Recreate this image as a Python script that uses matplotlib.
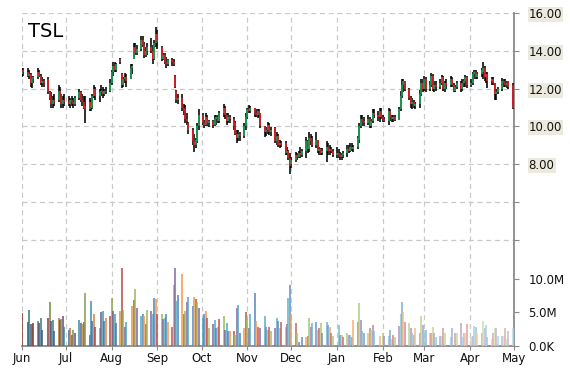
import matplotlib
matplotlib.use("Agg")
import matplotlib.pyplot as plt
import matplotlib.dates as mdates
import numpy as np
import pandas as pd
from matplotlib.colors import to_rgb

# ---------------- data ----------------
title = "TSL"
start_date = "2006-06-01"
end_date = "2007-04-30"

opens = [
    # Jun
    12.8,13.0,12.9,12.7,12.8,12.3,12.5,12.6,12.9,12.7,12.3,12.4,12.5,11.8,11.5,11.2,11.4,11.4,11.9,11.7,11.2,11.4,
    # Jul
    11.3,11.2,11.4,11.3,11.2,11.5,11.8,11.4,11.3,11.1,10.9,11.3,11.0,11.6,12.0,11.6,11.8,11.9,11.7,11.9,11.9,
    # Aug
    12.3,12.9,13.2,13.0,13.6,12.8,12.2,12.5,12.6,12.5,13.1,13.6,14.2,13.9,14.1,14.6,14.3,13.8,14.0,14.2,14.0,13.6,14.4,
    # Sep
    14.9,14.2,13.6,13.8,13.4,13.3,13.5,13.4,12.7,11.9,11.4,11.5,11.0,10.9,10.4,10.2,9.8,9.2,9.0,9.2,10.0,
    # Oct
    10.6,10.2,10.1,10.5,10.2,10.3,10.1,10.4,10.5,10.3,10.7,11.0,10.6,10.3,10.5,10.4,10.2,9.6,9.4,9.6,9.5,10.0,
    # Nov
    10.5,10.9,10.8,11.0,10.7,10.6,10.8,10.7,10.0,9.7,9.8,10.1,9.7,9.9,9.2,9.5,9.0,9.1,9.1,8.6,8.7,8.3,
    # Dec
    8.0,8.2,8.5,8.4,8.6,8.5,8.7,9.2,8.8,9.4,9.2,9.0,9.3,8.7,8.8,8.6,8.7,8.9,8.7,8.8,8.7,
    # Jan
    8.5,8.6,8.5,8.4,8.5,8.6,8.8,8.7,8.9,8.8,8.9,9.3,10.0,10.4,10.3,10.2,10.4,10.0,10.3,10.7,10.6,10.5,10.8,
    # Feb
    10.5,10.4,10.3,10.8,10.5,10.4,10.5,10.35,10.9,11.6,12.2,12.4,12.0,11.5,11.2,11.3,11.1,11.2,11.7,12.3,
    # Mar
    12.0,12.5,12.0,12.2,12.7,12.0,12.2,12.1,12.3,12.6,12.0,12.3,12.2,12.5,12.2,11.9,12.1,12.3,12.0,12.3,12.4,12.6,
    # Apr
    12.2,12.3,12.8,12.9,12.6,12.8,12.9,13.1,12.6,12.8,12.4,12.5,12.3,11.7,11.8,12.0,12.4,12.3,12.2,12.4,12.2,
]
highs = [
    13.1,13.1,13.1,13.0,12.85,12.6,12.7,13.1,13.0,12.8,12.6,12.5,12.6,11.9,11.8,11.6,11.7,12.2,12.1,11.7,11.6,11.7,
    11.6,11.5,11.6,11.5,11.6,12.0,11.9,11.7,11.6,11.6,11.5,11.4,11.7,12.2,12.1,12.0,12.2,12.1,12.0,12.1,12.5,
    13.0,13.4,13.4,13.35,13.65,12.85,12.6,12.85,12.8,13.3,13.3,14.45,14.4,14.3,14.8,14.8,14.5,14.2,14.4,14.7,14.3,14.6,15.25,
    15.1,14.25,13.9,13.9,13.7,13.6,13.65,13.6,12.75,11.95,11.7,11.7,11.2,11.15,10.7,10.25,9.9,9.6,9.4,10.2,10.9,
    10.7,10.35,10.7,10.6,10.35,10.35,10.6,10.6,10.6,10.8,11.2,11.1,10.7,10.7,10.6,10.5,10.3,9.8,9.8,9.7,10.2,10.7,
    11.0,11.15,11.1,11.0,10.9,10.9,10.9,10.7,10.0,9.95,10.25,10.2,9.95,9.95,9.7,9.6,9.3,9.2,9.2,8.9,8.75,8.6,
    8.4,8.65,8.6,8.7,8.9,8.8,9.45,9.3,9.7,9.6,9.5,9.7,9.3,8.9,8.85,8.85,9.2,9.1,9.0,8.9,8.8,
    8.9,8.8,8.65,8.6,8.7,9.0,9.0,9.1,9.1,9.0,9.5,10.2,10.6,10.6,10.5,10.6,10.5,10.4,10.9,10.9,10.8,11.0,11.0,
    10.6,10.5,11.0,10.9,10.6,10.6,10.6,11.05,11.9,12.5,12.5,12.4,12.05,11.6,11.5,11.4,11.3,11.95,12.5,12.5,
    12.65,12.6,12.4,12.85,12.8,12.4,12.4,12.5,12.75,12.7,12.4,12.5,12.65,12.6,12.3,12.2,12.4,12.4,12.5,12.5,12.75,12.7,
    12.5,12.9,13.0,13.0,12.9,13.1,13.4,13.2,12.9,12.9,12.6,12.6,12.3,12.0,12.1,12.55,12.5,12.5,12.4,12.4,12.3,
]
lows = [
    12.6,12.7,12.6,12.5,12.1,12.05,12.3,12.5,12.6,12.2,12.1,12.1,11.7,11.4,11.0,11.0,11.1,11.3,11.5,11.0,11.0,11.1,
    11.1,11.0,11.1,11.0,11.1,11.4,11.3,11.1,10.9,10.2,10.8,10.8,10.9,11.5,11.4,11.3,11.6,11.5,11.6,11.7,11.8,
    12.2,12.7,12.9,12.9,13.3,12.05,12.1,12.3,12.1,12.5,12.8,13.55,13.8,13.8,14.0,14.2,13.65,13.7,13.8,13.9,13.3,13.5,14.2,
    14.1,13.45,13.5,13.3,13.1,13.2,13.2,13.2,12.05,11.25,11.2,10.8,10.6,10.2,10.1,9.6,9.0,8.65,8.85,9.1,9.8,
    10.1,9.9,10.0,10.0,9.95,9.9,10.0,10.1,10.2,10.2,10.5,10.4,10.1,10.2,10.2,9.8,9.55,9.1,9.2,9.2,9.4,9.8,
    10.4,10.7,10.7,10.5,10.5,10.45,10.5,9.9,9.45,9.5,9.6,9.55,9.5,9.1,9.0,8.9,8.85,8.9,8.5,8.5,8.2,7.5,
    7.8,8.1,8.2,8.3,8.35,8.4,8.35,8.6,8.65,9.0,8.9,8.85,8.6,8.5,8.5,8.5,8.1,8.5,8.5,8.6,8.4,
    8.3,8.3,8.2,8.2,8.3,8.4,8.6,8.65,8.7,8.65,8.8,9.1,9.9,10.0,10.0,10.1,9.9,9.9,10.2,10.45,10.3,10.25,10.4,
    10.25,10.25,10.1,10.3,10.25,10.25,10.3,10.35,10.8,11.5,11.85,11.9,11.4,11.0,10.9,11.0,10.9,11.0,11.6,11.85,
    11.9,11.85,11.9,12.1,11.9,11.85,11.9,12.0,12.2,11.9,11.85,12.0,12.1,12.1,11.8,11.8,12.0,11.85,11.9,12.1,12.1,12.05,
    12.1,12.2,12.5,12.5,12.5,12.6,12.5,12.4,12.3,12.05,12.2,12.2,11.4,11.4,11.7,11.9,12.1,12.1,12.05,12.0,10.9,
]
closes = [
    13.0,12.9,12.7,12.8,12.3,12.5,12.6,12.9,12.7,12.3,12.4,12.3,11.8,11.5,11.2,11.4,11.3,11.9,11.7,11.2,11.4,11.3,
    11.2,11.4,11.3,11.2,11.5,11.8,11.4,11.3,11.0,10.9,11.3,11.0,11.6,12.0,11.6,11.8,11.9,11.7,11.9,11.8,12.3,
    12.9,13.2,13.0,13.3,13.4,12.2,12.5,12.6,12.4,13.1,13.2,14.2,13.9,14.1,14.6,14.3,13.8,14.0,14.2,14.0,13.6,14.4,14.9,
    14.5,13.6,13.8,13.4,13.3,13.5,13.4,13.3,12.1,11.4,11.5,11.0,10.8,10.4,10.3,9.8,9.2,9.0,9.3,10.0,10.6,
    10.2,10.1,10.5,10.2,10.3,10.1,10.4,10.5,10.3,10.7,11.0,10.6,10.3,10.5,10.4,10.0,9.6,9.4,9.6,9.5,10.0,10.5,
    10.9,10.8,11.0,10.7,10.6,10.8,10.7,10.0,9.7,9.8,10.1,9.7,9.8,9.2,9.5,9.0,9.1,9.0,8.6,8.7,8.3,7.9,
    8.2,8.5,8.4,8.6,8.5,8.7,9.2,8.8,9.4,9.2,9.0,9.3,8.7,8.8,8.6,8.7,8.9,8.7,8.8,8.7,8.5,
    8.6,8.5,8.4,8.5,8.6,8.8,8.7,8.9,8.8,8.9,9.4,10.0,10.4,10.3,10.2,10.4,10.0,10.3,10.7,10.6,10.5,10.8,10.5,
    10.4,10.3,10.8,10.5,10.4,10.5,10.35,10.9,11.6,12.2,12.4,12.0,11.5,11.2,11.3,11.1,11.2,11.7,12.3,12.0,
    12.5,12.0,12.2,12.7,12.0,12.2,12.1,12.3,12.6,12.0,12.3,12.2,12.5,12.2,11.9,12.1,12.3,12.0,12.3,12.4,12.6,12.2,
    12.3,12.8,12.9,12.6,12.8,13.0,13.1,12.6,12.8,12.4,12.5,12.3,11.7,11.8,12.0,12.4,12.3,12.2,12.3,12.1,11.0,
]
volumes_m = [
    4.9,0,3.5,5.4,3.2,3.2,3.4,3.7,3.4,4.1,2.4,0,4.1,6.5,3.7,3.9,2.2,4.1,3.9,4.0,4.4,2.8,
    2.4,2.6,1.7,2.4,1.9,3.9,3.4,3.2,3.5,7.9,1.7,6.6,3.7,4.8,2.8,2.7,5.0,5.2,3.7,4.2,4.4,
    7.1,5.2,4.8,3.4,5.2,11.6,5.4,2.8,3.5,0,5.9,6.8,8.4,5.7,4.4,4.7,4.4,3.2,5.4,5.2,4.8,7.1,6.9,
    4.8,4.7,4.0,4.1,4.7,3.5,2.8,9.1,11.6,6.6,7.6,10.7,4.8,5.2,6.5,7.2,5.9,7.3,6.9,6.5,5.7,
    4.1,4.7,5.2,4.2,2.7,3.2,3.9,2.6,2.8,4.0,4.5,2.4,3.4,2.2,2.2,2.2,1.7,5.7,6.1,1.9,2.7,5.0,
    4.2,2.7,4.7,7.9,3.7,2.8,0,2.7,4.5,2.8,2.4,2.8,2.2,2.7,4.2,3.7,2.6,3.5,2.8,3.2,7.1,9.1,
    4.7,3.4,2.0,0.6,0,1.3,1.4,1.5,4.2,2.8,3.4,3.5,2.4,2.6,3.4,1.9,3.5,3.1,2.8,1.9,1.5,
    0,3.1,1.7,1.7,1.4,1.9,1.7,1.7,1.4,3.9,3.5,6.3,3.9,2.2,1.9,1.9,2.7,2.4,3.1,2.2,0,1.5,0,
    1.9,1.5,1.5,2.4,1.1,1.7,1.3,3.0,4.7,6.5,5.0,3.5,3.4,2.7,2.0,1.7,2.6,1.9,4.5,3.1,
    2.4,2.4,2.0,2.0,2.8,1.9,1.3,1.5,1.5,2.6,1.9,0,1.3,2.6,0,2.0,1.9,3.4,1.4,2.0,2.0,3.2,
    1.3,1.5,3.0,2.8,1.9,1.9,3.7,2.7,3.1,1.4,1.1,1.9,2.6,2.7,1.5,1.5,1.5,2.7,1.1,2.2,2.6,
]
price_ticks = [4, 6, 8, 10, 12, 14, 16]
price_labels = ["", "", "8.00", "10.00", "12.00", "14.00", "16.00"]
volume_ticks = [0, 5, 10]
volume_labels = ["0.0K", "5.0M", "10.0M"]

# ---------------- styling ----------------
UP = "#1aa85a"
DOWN = "#ee1c24"
GRID = "#c9c9c9"
AXIS = "#8a8a8a"
vol_palette = ["#C0504D", "#9BBB59", "#8064A2", "#4BACC6", "#4F81BD", "#F79646"]

dates = pd.bdate_range(start_date, end_date)
n = min(len(dates), len(opens), len(highs), len(lows), len(closes), len(volumes_m))
x = mdates.date2num(dates[:n])
o = np.array(opens[:n]); h = np.array(highs[:n]); l = np.array(lows[:n]); c = np.array(closes[:n])
v = np.array(volumes_m[:n])

W, H = 570, 370
fig = plt.figure(figsize=(W / 100, H / 100), dpi=100)
left_px, right_px, top_px, bot_px = 21.7, 514, 13.3, 346
ax = fig.add_axes([left_px / W, (H - bot_px) / H, (right_px - left_px) / W, (bot_px - top_px) / H])
ax.set_xlim(mdates.date2num(pd.Timestamp("2006-06-01")), mdates.date2num(pd.Timestamp("2007-05-01")))
ax.set_ylim(16 - (bot_px - top_px) / 18.85, 16)

# grid
ax.set_axisbelow(True)
ax.grid(True, color=GRID, linestyle=(0, (4, 3)), linewidth=0.9)

# candles
ax.vlines(x, l, h, colors="black", linewidth=1.15, zorder=3)
body_cols = [UP if cc >= oo else DOWN for oo, cc in zip(o, c)]
ax.vlines(x, o, c, colors=body_cols, linewidth=1.15, zorder=4)

# volume (twin axes sharing the date axis)
ax2 = ax.twinx()
ax2.set_ylim(0, (bot_px - top_px) / 6.75)
ts = np.linspace(0, 1, n)
vcols = []
for i, t in enumerate(ts):
    base = np.array(to_rgb(vol_palette[i % len(vol_palette)]))
    if t < 0.25:
        k = (0.25 - t) / 0.25 * 0.35
        col = base * (1 - k)
    elif t > 0.45:
        k = (t - 0.45) / 0.55 * 0.55
        col = base * (1 - k) + k
    else:
        col = base
    vcols.append(tuple(col))
ax2.vlines(x, 0, v, colors=vcols, linewidth=1.1, zorder=2)
for s in ax2.spines.values():
    s.set_visible(False)
ax2.set_yticks(volume_ticks)
ax2.set_yticklabels(volume_labels)
ax2.tick_params(axis="y", direction="out", length=3.5, color=AXIS, labelsize=8.5, pad=7,
                labelcolor="#111111")

# price axis styling (after twinx so the ticks stay on the right)
for s in ("top", "left"):
    ax.spines[s].set_visible(False)
for s in ("right", "bottom"):
    ax.spines[s].set_color(AXIS)
    ax.spines[s].set_linewidth(1.3)
ax.yaxis.tick_right()
ax.yaxis.set_label_position("right")
ax.set_yticks(price_ticks)
ax.set_yticklabels(price_labels)
ax.tick_params(axis="y", which="both", left=False, labelleft=False, right=True, labelright=True,
               direction="out", length=3.5, color=AXIS, labelsize=8.5, pad=7, labelcolor="#111111")
for lab in ax.yaxis.get_ticklabels(which="major"):
    if lab.get_text():
        lab.set_bbox(dict(facecolor="#ECE9DE", edgecolor="none", pad=0.8))
ax.xaxis.set_major_locator(mdates.MonthLocator())
ax.xaxis.set_major_formatter(mdates.DateFormatter("%b"))
ax.tick_params(axis="x", direction="out", length=3, color=AXIS, labelsize=8.5, pad=1.5,
               labelcolor="#111111")

fig.text(28 / W, 1 - 37 / H, title, fontsize=14, va="baseline", ha="left", color="#000000")

fig.savefig("out.png", dpi=100)
